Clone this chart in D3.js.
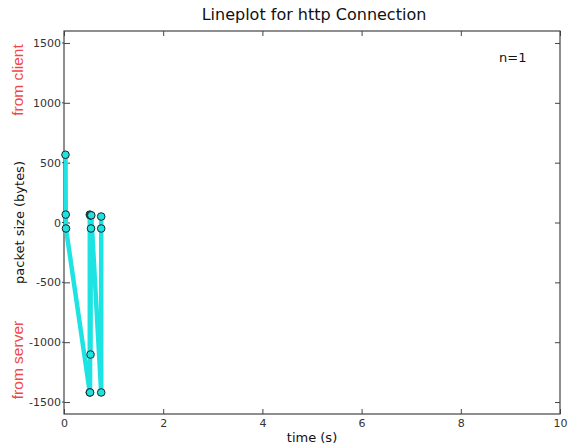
<!DOCTYPE html>
<html><head><meta charset="utf-8">
<script src="https://cdn.jsdelivr.net/npm/d3@7"></script>
<style>body{margin:0;background:#fff}</style>
</head><body>
<svg id="c" width="570" height="446"></svg>
<script>
const times = [0.03, 0.035, 0.04, 0.52, 0.52, 0.525, 0.53, 0.535, 0.54, 0.545, 0.55, 0.75, 0.75, 0.75];
const sizes = [566, 66, -50, -1420, 66, -1420, 60, -1103, 60, -50, 60, -1420, 50, -50];
const xTicks = [0, 2, 4, 6, 8, 10];
const yTicks = [-1500, -1000, -500, 0, 500, 1000, 1500];

const svg = d3.select("#c");
const m = {l: 64, r: 560, t: 31, b: 414};
const x = d3.scaleLinear().domain([0, 10]).range([m.l, m.r]);
const y = d3.scaleLinear().domain([-1600, 1600]).range([m.b, m.t]);
const axisCol = "#444";
const font = "'DejaVu Sans', sans-serif";
const lf = "'Liberation Sans', Arial, sans-serif";
const fmt = d => String(d);

function style(g, showText) {
  g.select(".domain").remove();
  g.selectAll(".tick line").attr("stroke", axisCol);
  g.selectAll(".tick text").attr("fill", "#333").style("font-family", font).style("font-size", "11px");
  if (!showText) g.selectAll(".tick text").remove();
}
svg.append("g").attr("transform", `translate(0,${m.b})`)
  .call(d3.axisBottom(x).tickValues(xTicks).tickFormat(fmt).tickSizeInner(-5).tickPadding(5)).call(g => style(g, true));
svg.append("g").attr("transform", `translate(0,${m.t})`)
  .call(d3.axisTop(x).tickValues(xTicks).tickSizeInner(-5)).call(g => style(g, false));
svg.append("g").attr("transform", `translate(${m.l},0)`)
  .call(d3.axisLeft(y).tickValues(yTicks).tickFormat(fmt).tickSizeInner(-6).tickPadding(3)).call(g => style(g, true));
svg.append("g").attr("transform", `translate(${m.r},0)`)
  .call(d3.axisRight(y).tickValues(yTicks).tickSizeInner(-5)).call(g => style(g, false));
svg.append("g").selectAll("line").data(yTicks).join("line")
  .attr("x1", m.l - 2).attr("x2", m.l).attr("y1", d => y(d)).attr("y2", d => y(d)).attr("stroke", axisCol);

svg.append("rect").attr("x", m.l).attr("y", m.t).attr("width", m.r - m.l).attr("height", m.b - m.t)
  .attr("fill", "none").attr("stroke", axisCol).attr("stroke-width", 1.2);

const pts = times.map((t, i) => [t, sizes[i]]);
svg.append("clipPath").attr("id", "cp").append("rect")
  .attr("x", m.l).attr("y", m.t).attr("width", m.r - m.l).attr("height", m.b - m.t);
const plot = svg.append("g").attr("clip-path", "url(#cp)");
plot.append("path").datum(pts)
  .attr("d", d3.line().x(d => x(d[0])).y(d => y(d[1])))
  .attr("fill", "none").attr("stroke", "#1ee3e3").attr("stroke-width", 4.5).attr("stroke-linejoin", "round");
svg.append("g").selectAll("circle").data(pts).join("circle")
  .attr("cx", d => x(d[0])).attr("cy", d => y(d[1])).attr("r", 3.8)
  .attr("fill", "#1ee3e3").attr("stroke", "#222").attr("stroke-width", 1);

svg.append("text").attr("x", 314).attr("y", 20).attr("text-anchor", "middle")
  .style("font-family", font).style("font-size", "16px").attr("fill", "#111").text("Lineplot for http Connection");
svg.append("text").attr("x", (m.l + m.r) / 2).attr("y", 442).attr("text-anchor", "middle")
  .style("font-family", font).style("font-size", "13px").attr("fill", "#111").text("time (s)");
svg.append("text").attr("transform", `translate(24,${y(0)}) rotate(-90)`).attr("text-anchor", "middle")
  .style("font-family", font).style("font-size", "13px").attr("fill", "#111").text("packet size (bytes)");
svg.append("text").attr("transform", `translate(23,80) rotate(-90)`).attr("text-anchor", "middle")
  .style("font-family", lf).style("font-size", "15.5px").attr("fill", "#f04848").text("from client");
svg.append("text").attr("transform", `translate(23,360) rotate(-90)`).attr("text-anchor", "middle")
  .style("font-family", lf).style("font-size", "15.5px").attr("fill", "#f04848").text("from server");
svg.append("text").attr("x", 499).attr("y", 62)
  .style("font-family", font).style("font-size", "13px").attr("fill", "#111").text("n=1");
</script>
</body></html>
